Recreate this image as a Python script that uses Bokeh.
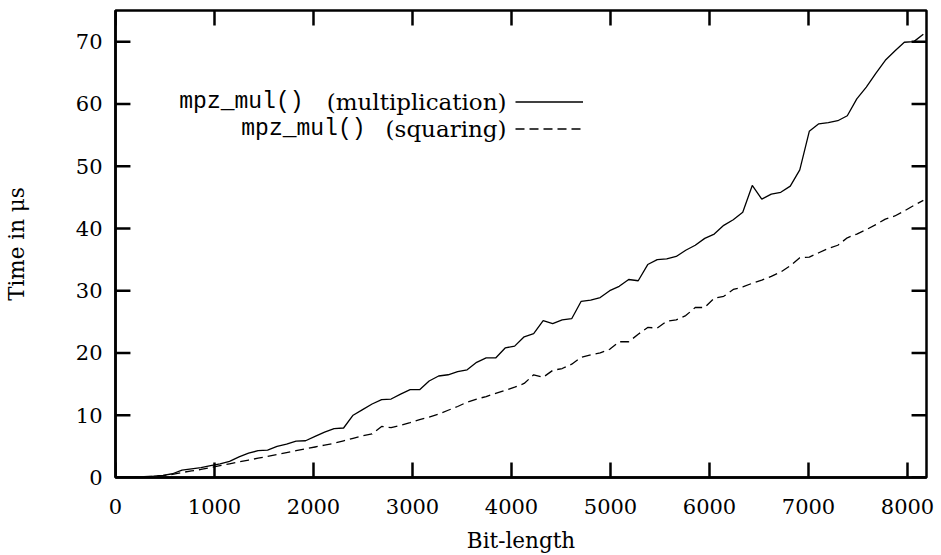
from bokeh.plotting import figure
from bokeh.models import Range1d, Legend, LegendItem, Label, FixedTicker, ColumnDataSource, Segment
from bokeh.embed import file_html
from bokeh.resources import INLINE

# ---- data ----
bits = [0, 96, 192, 288, 384, 480, 576, 672, 768, 864,
        960, 1056, 1152, 1248, 1344, 1440, 1536, 1632, 1728, 1824,
        1920, 2016, 2112, 2208, 2304, 2400, 2496, 2592, 2688, 2784,
        2880, 2976, 3072, 3168, 3264, 3360, 3456, 3552, 3648, 3744,
        3840, 3936, 4032, 4128, 4224, 4320, 4416, 4512, 4608, 4704,
        4800, 4896, 4992, 5088, 5184, 5280, 5376, 5472, 5568, 5664,
        5760, 5856, 5952, 6048, 6144, 6240, 6336, 6432, 6528, 6624,
        6720, 6816, 6912, 7008, 7104, 7200, 7296, 7392, 7488, 7584,
        7680, 7776, 7872, 7968, 8064, 8160]

mul_time = [0.0, 0.05, 0.1, 0.15, 0.22, 0.35, 0.6, 1.2, 1.4, 1.6,
            1.9, 2.2, 2.6, 3.3, 3.9, 4.3, 4.4, 5.0, 5.35, 5.85,
            5.9, 6.6, 7.3, 7.85, 7.95, 10.0, 10.9, 11.8, 12.5, 12.6,
            13.4, 14.1, 14.1, 15.5, 16.3, 16.5, 17.0, 17.3, 18.5, 19.2,
            19.2, 20.8, 21.1, 22.6, 23.1, 25.2, 24.7, 25.3, 25.5, 28.3,
            28.5, 28.9, 30.0, 30.7, 31.8, 31.6, 34.2, 35.0, 35.1, 35.5,
            36.5, 37.3, 38.4, 39.1, 40.5, 41.4, 42.6, 46.9, 44.7, 45.5,
            45.8, 46.8, 49.4, 55.6, 56.8, 57.0, 57.3, 58.1, 60.8, 62.7,
            64.9, 67.0, 68.5, 69.9, 70.0, 71.2]

sqr_time = [0.0, 0.02, 0.05, 0.1, 0.2, 0.3, 0.5, 0.8, 1.05, 1.3,
            1.6, 1.9, 2.2, 2.5, 2.8, 3.1, 3.4, 3.7, 4.0, 4.3,
            4.6, 4.9, 5.2, 5.5, 5.9, 6.3, 6.7, 7.0, 8.2, 8.0,
            8.4, 8.8, 9.3, 9.7, 10.2, 10.8, 11.4, 12.1, 12.6, 13.0,
            13.5, 14.0, 14.5, 15.1, 16.5, 16.1, 17.2, 17.5, 18.2, 19.3,
            19.7, 20.0, 20.6, 21.8, 21.8, 23.0, 24.1, 24.0, 25.1, 25.3,
            26.0, 27.3, 27.3, 28.8, 29.1, 30.2, 30.6, 31.2, 31.7, 32.3,
            33.0, 34.0, 35.3, 35.4, 36.1, 36.8, 37.3, 38.5, 39.1, 39.8,
            40.6, 41.5, 42.0, 42.8, 43.7, 44.5]

x_ticks = [0, 1000, 2000, 3000, 4000, 5000, 6000, 7000, 8000]
y_ticks = [0, 10, 20, 30, 40, 50, 60, 70]
legend_code = ["mpz_mul()", "mpz_mul()"]
legend_desc = ["(multiplication)", "(squaring)"]

serif = "DejaVu Serif"
mono = "Liberation Mono"

X_MAX, Y_MAX = 8192, 75
W, H = 941, 555
B_LEFT, B_RIGHT, B_TOP, B_BOTTOM = 112, 15, 10, 76
FRAME_W = W - B_LEFT - B_RIGHT
FRAME_H = H - B_TOP - B_BOTTOM
TICK_PX = 15

p = figure(width=W, height=H, output_backend="svg", toolbar_location=None,
           x_range=Range1d(0, X_MAX), y_range=Range1d(0, Y_MAX),
           min_border_left=B_LEFT, min_border_right=B_RIGHT,
           min_border_top=B_TOP, min_border_bottom=B_BOTTOM,
           x_axis_label="Bit-length", y_axis_label="Time in μs")
p.grid.visible = False
p.outline_line_color = "black"
p.outline_line_width = 2.5
p.background_fill_color = "white"
p.border_fill_color = "white"

for ax, ticks in ((p.xaxis[0], x_ticks), (p.yaxis[0], y_ticks)):
    ax.ticker = FixedTicker(ticks=ticks)
    ax.axis_line_color = "black"
    ax.axis_line_width = 2.5
    ax.major_tick_in = 0
    ax.major_tick_out = 0
    ax.minor_tick_line_color = None
    ax.major_label_text_font = serif
    ax.major_label_text_font_size = "21px"
    ax.major_label_text_color = "black"
    ax.axis_label_text_font = serif
    ax.axis_label_text_font_size = "21.5px"
    ax.axis_label_text_font_style = "normal"
    ax.axis_label_text_color = "black"

p.xaxis[0].major_label_standoff = 21
p.xaxis[0].axis_label_standoff = 11
p.yaxis[0].major_label_standoff = 13
p.yaxis[0].axis_label_standoff = 44

# inward tick marks on all four sides (gnuplot style "mirror")
ylen = TICK_PX * Y_MAX / FRAME_H
xlen = TICK_PX * X_MAX / FRAME_W
nx, ny = len(x_ticks), len(y_ticks)
tick_src = ColumnDataSource(dict(
    x0=x_ticks + x_ticks + [0] * ny + [X_MAX] * ny,
    y0=[0] * nx + [Y_MAX] * nx + y_ticks + y_ticks,
    x1=x_ticks + x_ticks + [xlen] * ny + [X_MAX - xlen] * ny,
    y1=[ylen] * nx + [Y_MAX - ylen] * nx + y_ticks + y_ticks,
))
p.add_glyph(tick_src, Segment(x0="x0", y0="y0", x1="x1", y1="y1",
                              line_color="black", line_width=2.5))

r_mul = p.line(bits, mul_time, line_color="black", line_width=1.3)
r_sqr = p.line(bits, sqr_time, line_color="black", line_width=1.3,
               line_dash="9 5")

# legend: gnuplot style, text right-justified, sample on the right
ROW_H = 27
legend = Legend(items=[LegendItem(label=" ", renderers=[r_mul]),
                       LegendItem(label=" ", renderers=[r_sqr])],
                location=(400, 335), glyph_width=68, glyph_height=ROW_H,
                spacing=0, padding=0, margin=0, label_standoff=0,
                label_width=0, label_height=ROW_H, label_text_font_size="1px",
                border_line_alpha=0, background_fill_alpha=0)
p.add_layout(legend)

row_y = [376, 349]
code_right = [300, 362]
for code, desc, ypos, cr in zip(legend_code, legend_desc, row_y, code_right):
    p.add_layout(Label(x=391, y=ypos, x_units="screen", y_units="screen",
                       text=desc, text_align="right", text_baseline="middle",
                       text_font=serif, text_font_size="23px",
                       text_color="black"))
    p.add_layout(Label(x=cr - B_LEFT, y=ypos, x_units="screen",
                       y_units="screen", text=code, text_align="right",
                       text_baseline="middle", text_font=mono,
                       text_font_size="23px", text_color="black"))

open("out.html", "w").write(file_html(p, INLINE))
